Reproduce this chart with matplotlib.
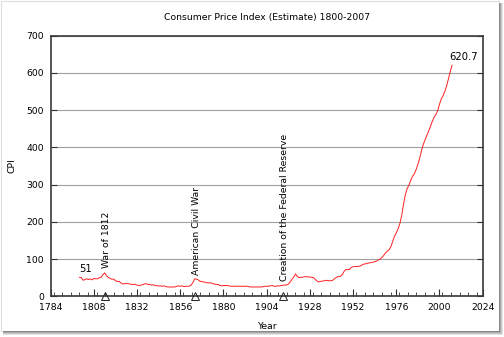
import matplotlib
matplotlib.use("Agg")
import matplotlib.pyplot as plt
from matplotlib.patches import Rectangle
from matplotlib.ticker import MultipleLocator

years = list(range(1800, 2008))
cpi = [51, 50, 43, 45, 47, 45, 47, 44, 48, 47,
       47, 50, 51, 58, 63, 55, 51, 48, 46, 46,
       42, 40, 40, 36, 33, 34, 34, 34, 33, 32,
       32, 32, 30, 29, 30, 31, 33, 34, 32, 32,
       30, 31, 29, 28, 28, 28, 27, 28, 26, 25,
       25, 25, 25, 25, 27, 28, 27, 28, 26, 27,
       27, 27, 30, 37, 47, 46, 44, 40, 40, 38,
       38, 36, 36, 36, 34, 33, 32, 32, 29, 28,
       29, 29, 29, 28, 27, 27, 27, 27, 27, 27,
       27, 27, 27, 27, 26, 25, 25, 25, 25, 25,
       25, 25, 26, 27, 27, 27, 28, 29, 27, 27,
       28, 28, 29, 29.7, 30.1, 30.4, 32.7, 38.4, 45.1, 51.8,
       60.0, 53.6, 50.2, 51.1, 51.2, 52.5, 53.0, 52.0, 51.3, 51.3,
       50.0, 45.6, 40.9, 38.8, 40.1, 41.1, 41.5, 43.0, 42.2, 41.6,
       42.0, 44.1, 48.8, 51.8, 52.7, 53.9, 58.5, 66.9, 72.1, 71.4,
       72.1, 77.8, 79.5, 80.1, 80.5, 80.2, 81.4, 84.3, 86.6, 87.3,
       88.7, 89.6, 90.6, 91.7, 92.9, 94.5, 97.2, 100.0, 104.2, 109.8,
       116.3, 121.3, 125.3, 133.1, 147.7, 161.2, 170.5, 181.5, 195.4, 217.4,
       246.8, 272.4, 289.1, 298.4, 311.1, 322.2, 328.4, 340.4, 354.3, 371.3,
       391.4, 408.0, 420.3, 432.7, 444.0, 456.5, 469.9, 480.8, 488.3, 499.0,
       515.8, 530.4, 538.8, 551.1, 565.8, 585.0, 603.9, 620.7]

event_years = [1814, 1864, 1913]
event_labels = ["War of 1812", "American Civil War", "Creation of the Federal Reserve"]
event_label_x = [1815, 1865, 1914]
event_label_y = [75, 57, 41]

x_ticks = list(range(1784, 2025, 24))
y_ticks = list(range(0, 701, 100))

fs = 6.7
fig = plt.figure(figsize=(5.04, 3.37), dpi=100)
fig.patch.set_facecolor("white")

# outer border with shadow
W, H = 504, 337
def px(x0, y0, w, h, **kw):
    fig.patches.append(Rectangle((x0 / W, 1 - (y0 + h) / H), w / W, h / H,
                                 transform=fig.transFigure, figure=fig, **kw))
px(0.5, 0.5, 498, 330, fill=False, edgecolor="#dddddd", linewidth=0.8)
for i, c in enumerate(["#8a8a8a", "#a8a8a8", "#c8c8c8", "#e4e4e4"]):
    px(499 + i, 3, 1, 329 + i, facecolor=c, edgecolor="none")
    px(3, 331 + i, 497 + i, 1, facecolor=c, edgecolor="none")

ax = fig.add_axes([50.7 / W, 1 - 296.3 / H, 432 / W, 260.6 / H])
ax.plot(years, cpi, color="#ff2020", linewidth=0.7)

ax.set_xlim(1784, 2024)
ax.set_ylim(0, 700)
ax.set_xticks(x_ticks)
ax.set_yticks(y_ticks)
ax.xaxis.set_minor_locator(MultipleLocator(4.8))
ax.tick_params(axis="x", which="both", direction="in", top=False, labelsize=fs, pad=5, color="#333333")
ax.tick_params(axis="x", which="major", length=5, width=0.8)
ax.tick_params(axis="x", which="minor", length=3, width=0.6)
ax.tick_params(axis="y", direction="in", right=True, length=4, width=0.8, labelsize=fs, pad=5, color="#333333")
ax.yaxis.grid(True, color="#a0a0a0", linewidth=0.8)
ax.set_axisbelow(True)
for s in ax.spines.values():
    s.set_color("#3a3a3a")
    s.set_linewidth(1.2)

ax.plot(event_years, [0] * len(event_years), linestyle="none", marker="^",
        markersize=6, markerfacecolor="none", markeredgecolor="#222222",
        markeredgewidth=0.7, clip_on=False, zorder=5)
for lx, ly, lab in zip(event_label_x, event_label_y, event_labels):
    ax.text(lx, ly, lab, rotation=90, ha="center", va="bottom", fontsize=fs)

ax.text(years[0] + 3.5, cpi[0] + 21, "51", ha="center", va="center", fontsize=fs + 0.5)
ax.text(years[-1] + 6.5, cpi[-1] + 22, "620.7", ha="center", va="center", fontsize=fs + 0.5)

ax.set_title("Consumer Price Index (Estimate) 1800-2007", fontsize=fs, pad=11)
ax.set_xlabel("Year", fontsize=fs, labelpad=7)
ax.set_ylabel("CPI", fontsize=fs, labelpad=7)

fig.savefig("out.png", dpi=100, facecolor="white")
